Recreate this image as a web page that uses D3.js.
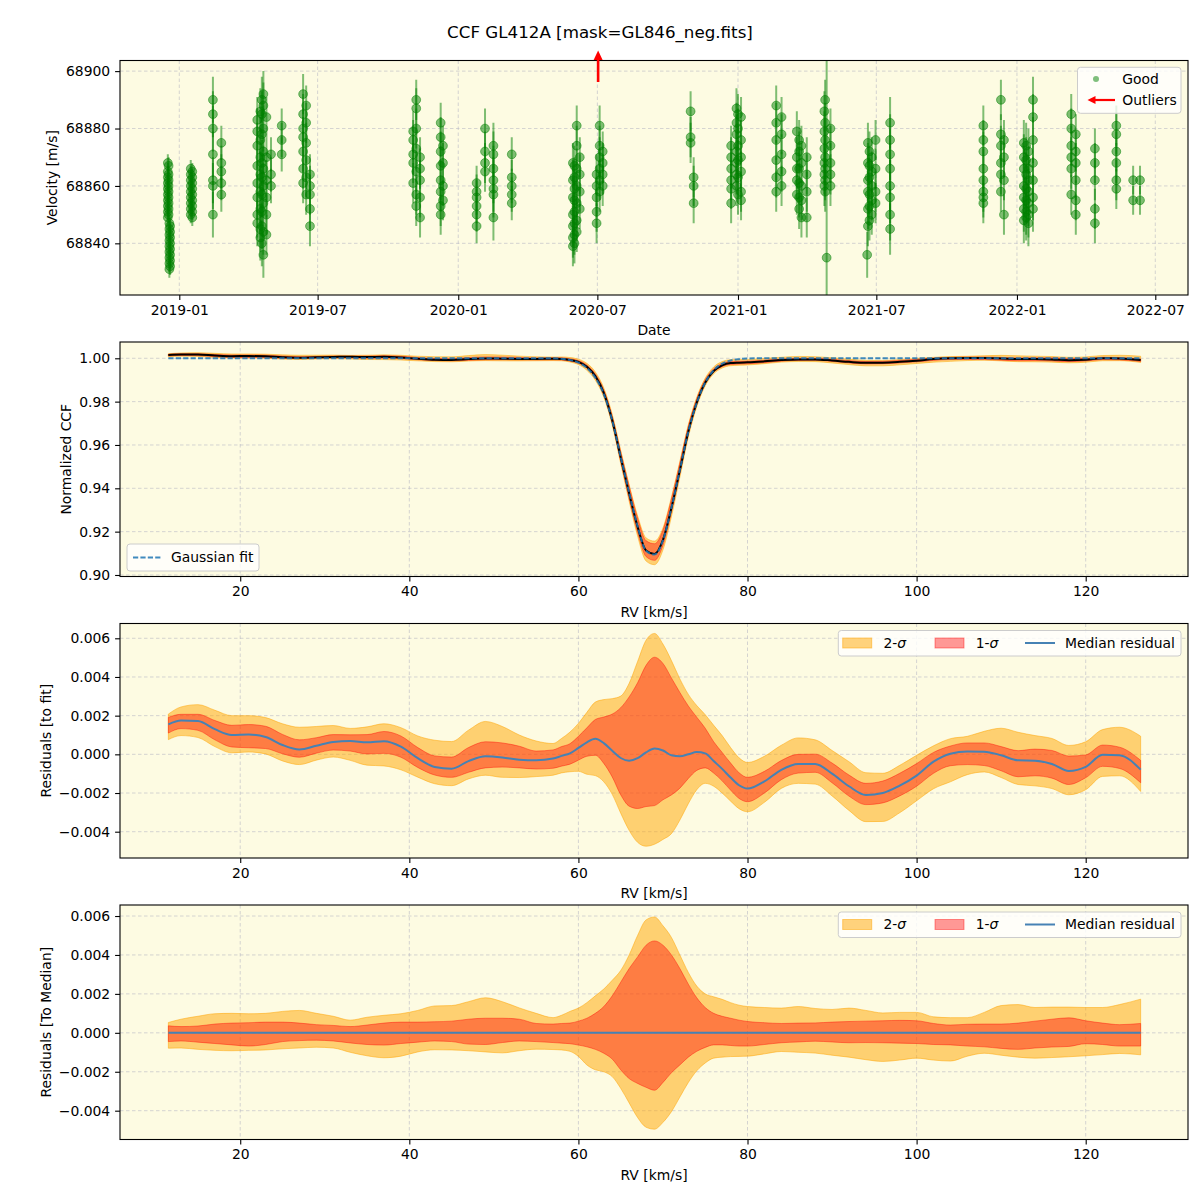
<!DOCTYPE html>
<html><head><meta charset="utf-8">
<script src="https://cdn.jsdelivr.net/npm/d3@7"></script>
<style>body{margin:0;background:#fff}svg{display:block;font-family:"DejaVu Sans",sans-serif}</style>
</head><body><svg id="c" width="1200" height="1200"></svg>
<script>
// ---------------- DATA ----------------
const titleText = "CCF GL412A [mask=GL846_neg.fits]";
// Panel 1: velocity time series (grouped by observing night)
const epochDates = ["2018-12-17","2018-12-18","2018-12-19","2018-12-20","2019-01-16","2019-01-18","2019-02-14","2019-02-25",
 "2019-04-13","2019-04-17","2019-04-21","2019-04-25","2019-05-01","2019-05-15","2019-06-12","2019-06-16","2019-06-21",
 "2019-11-03","2019-11-07","2019-11-12","2019-12-09","2019-12-12","2020-01-25","2020-02-05","2020-02-16","2020-03-11",
 "2020-05-30","2020-06-04","2020-06-08","2020-06-30","2020-07-04","2020-07-08","2020-10-31","2020-11-04",
 "2020-12-23","2020-12-30","2021-01-05","2021-02-20","2021-02-27","2021-03-19","2021-03-25","2021-04-01",
 "2021-04-25","2021-05-02","2021-04-27","2021-06-20","2021-06-25","2021-06-30","2021-06-19","2021-07-19",
 "2021-11-18","2021-12-11","2021-12-15","2022-01-10","2022-01-16","2022-01-22","2022-03-13","2022-03-19",
 "2022-04-13","2022-05-11","2022-06-02","2022-06-11",
 "2020-06-01","2021-01-01","2021-06-22","2022-01-13","2019-04-19","2021-03-22","2021-04-24"];
const epochVels = [
 [68868,68865,68863,68861,68859,68857,68855,68853,68851,68849],[68867,68864,68862,68860,68858,68856,68854,68852,68850],
 [68847,68845,68843,68841,68839,68837,68835,68833,68831],[68846,68844,68842,68840,68838,68836,68834,68832],
 [68866,68864,68862,68860,68858,68856,68854,68852,68850],[68865,68863,68861,68859,68857,68855,68853,68851,68849],
 [68890,68885,68880,68871,68862,68860,68850],[68875,68868,68865,68861,68857],
 [68883,68879,68874,68867,68861,68856,68850,68847],[68886,68876,68870,68864,68858,68852,68845,68842],[68892,68888,68880,68872,68866,68860,68854,68844,68836],
 [68884,68870,68862,68856,68850,68843],[68871,68864,68860],[68881,68876,68871],
 [68892,68885,68880,68877,68872,68866,68861],[68888,68882,68875,68869,68863,68857],[68864,68860,68857,68852,68846],
 [68879,68876,68871,68868,68861],[68890,68887,68880,68873,68865,68857,68853],[68870,68866,68862,68856,68849],
 [68882,68877,68872,68867,68862,68858,68853,68850],[68874,68868,68860,68855],[68861,68858,68856,68853,68850,68846],
 [68880,68872,68868,68865],[68874,68871,68866,68862,68859,68857,68849],[68871,68863,68860,68857,68854],
 [68868,68862,68856,68850,68846,68842,68839],[68881,68874,68866,68860,68854,68848,68844],[68870,68864,68858,68852],
 [68864,68860,68856,68851,68847],[68881,68874,68870,68866,68862,68858],[68872,68868,68864,68860],
 [68886,68877,68875],[68863,68860,68854],
 [68874,68870,68866,68862,68859,68854],[68887,68882,68878,68872,68868,68864,68860],[68884,68876,68870,68865,68858,68855],
 [68888,68882,68876,68869,68863,68858],[68884,68878,68871,68865,68860],
 [68879,68870,68866,68862,68857],[68874,68868,68860,68855,68849],[68870,68864,68858,68849],
 [68890,68882,68876,68870,68866,68862,68858],[68880,68874,68868,68864,68860],[68835],
 [68875,68868,68862,68858,68852,68846],[68870,68865,68860,68855,68850],[68876,68866,68858,68854],[68836],
 [68882,68876,68871,68866,68860,68856,68850,68845],
 [68881,68876,68872,68866,68862,68858,68856,68854],[68890,68878,68874,68868,68864,68858],[68876,68870,68862,68850],
 [68875,68870,68866,68860,68856,68852,68848],[68872,68866,68862,68858,68854,68850,68847],[68890,68884,68876,68868,68862,68856,68852],
 [68885,68880,68874,68870,68866,68857],[68878,68872,68868,68862,68855,68850],
 [68873,68868,68862,68852,68847],[68881,68878,68872,68868,68862,68859],[68862,68855],[68862,68855],
 [68867,68863,68859,68855,68851,68847,68843,68840],[68885,68880,68874,68869,68863,68857],[68872,68867,68863,68857,68853,68848],
 [68874,68869,68864,68859,68855,68851,68849],[68890,68885,68878,68868,68863,68857,68851,68846,68840],
 [68876,68872,68866,68861,68856,68852],[68886,68879,68873,68868,68864,68860]];
const epochErrs = [3,3,3,3,3,3,8,6, 8,8,8,7,6,6, 7,7,7, 7,7,7, 7,7,6,7,8,6, 7,7,7,7,7,7,7,7, 7,7,7,7,7,7,7,7, 7,7,70,7,7,7,8,9, 7,7,7,8,8,8,7,7, 7,7,5,5,
 7,7,7,8,8,7,7];
const outlierDates = ["2020-07-02"];
const dateLimits = ["2018-10-15T10:00:00Z","2022-08-12T19:00:00Z"];
const dateTicks = ["2019-01-01","2019-07-01","2020-01-01","2020-07-01","2021-01-01","2021-07-01","2022-01-01","2022-07-01"];
const velLimits = [68822, 68903.7];
const velTicks = [68840, 68860, 68880, 68900];

// Panels 2-4: RV grid, Gaussian fit, median residual and quantile offsets (x1e-3)
const rvGrid = [11.5,13,15,17,19,21,23,25,27,29,31,33,35,37,39,41,43,45,47,49,51,53,55,57,
 58,59,60,61,62,63,64,65,66,67,68,69,70,71,72,73,74,75,76,77,78,79,80,
 82,84,86,88,90,92,94,96,98,100,102,104,106,108,110,112,114,116,118,120,122,124,126.5];
const fitCCF = [1,1,1,1,1,1,1,1,1,1,1,1,1,1,1,1,1,1,1,1,1,1,1,1,
 0.9998,0.9992,0.998,0.9955,0.991,0.9835,0.9712,0.9545,0.938,0.9225,0.9112,0.9094,0.916,0.931,0.9485,0.9662,0.9795,0.9888,0.9945,0.9975,0.999,0.9996,0.9999,
 1,1,1,1,1,1,1,1,1,1,1,1,1,1,1,1,1,1,1,1,1,1,1];
const medResid = [1.55,1.75,1.72,1.3,1.0,1.02,0.9,0.48,0.25,0.44,0.64,0.69,0.62,0.68,0.4,-0.2,-0.65,-0.74,-0.35,-0.1,-0.16,-0.28,-0.31,-0.22,
 -0.08,0.05,0.33,0.62,0.8,0.58,0.18,-0.19,-0.33,-0.2,0.1,0.3,0.2,-0.05,-0.1,0.0,0.12,0.05,-0.35,-0.75,-1.2,-1.6,-1.77,
 -1.4,-0.8,-0.5,-0.5,-1.0,-1.65,-2.1,-2.0,-1.62,-1.1,-0.38,0.03,0.15,0.14,-0.05,-0.31,-0.33,-0.5,-0.86,-0.65,-0.02,-0.05,-0.79];
const hi2Off = [0.53,0.7,0.85,0.98,1.0,0.98,1.0,1.1,1.15,1.0,0.85,0.65,0.8,0.9,0.98,1.15,1.38,1.4,1.6,1.8,1.6,1.28,1.0,0.78,
 0.9,1.1,1.27,1.55,1.9,2.25,2.7,3.2,4.0,5.0,5.8,5.95,5.5,4.9,4.0,3.1,2.4,2.0,1.85,1.72,1.55,1.42,1.35,
 1.3,1.27,1.35,1.25,1.2,1.27,1.15,1.02,1.05,1.05,0.82,0.78,0.78,1.05,1.4,1.45,1.3,1.32,1.32,1.3,1.3,1.45,1.73];
const hi1Off = [0.36,0.32,0.35,0.45,0.5,0.52,0.55,0.55,0.5,0.42,0.38,0.32,0.4,0.5,0.55,0.55,0.57,0.6,0.7,0.75,0.75,0.7,0.48,0.45,
 0.48,0.5,0.6,0.75,1.0,1.35,1.9,2.6,3.3,3.9,4.5,4.72,4.5,4.0,3.3,2.5,1.8,1.3,1.0,0.85,0.75,0.65,0.58,
 0.52,0.48,0.5,0.51,0.55,0.58,0.6,0.62,0.64,0.62,0.48,0.4,0.44,0.45,0.45,0.5,0.6,0.7,0.77,0.62,0.5,0.42,0.48];
const lo1Off = [-0.45,-0.42,-0.48,-0.55,-0.62,-0.68,-0.6,-0.45,-0.4,-0.38,-0.42,-0.52,-0.6,-0.63,-0.55,-0.48,-0.42,-0.45,-0.58,-0.6,-0.5,-0.42,-0.45,-0.5,
 -0.53,-0.56,-0.63,-0.72,-0.85,-1.05,-1.35,-1.9,-2.35,-2.6,-2.8,-2.95,-2.55,-2.05,-1.65,-1.25,-0.95,-0.75,-0.62,-0.62,-0.65,-0.68,-0.68,
 -0.6,-0.51,-0.47,-0.43,-0.47,-0.51,-0.5,-0.51,-0.53,-0.55,-0.6,-0.62,-0.68,-0.72,-0.8,-0.85,-0.78,-0.73,-0.7,-0.56,-0.6,-0.68,-0.68];
const lo2Off = [-0.79,-0.78,-0.85,-0.9,-0.92,-0.9,-0.88,-0.82,-0.78,-0.74,-0.78,-1.0,-1.18,-1.28,-1.2,-0.98,-0.87,-0.88,-0.92,-0.98,-1.03,-0.92,-0.84,-0.86,
 -0.88,-0.95,-1.21,-1.65,-1.9,-2.0,-2.25,-2.85,-3.6,-4.35,-4.85,-4.95,-4.6,-4.05,-3.3,-2.55,-1.95,-1.55,-1.3,-1.25,-1.22,-1.21,-1.2,
 -1.08,-0.96,-1.0,-1.04,-1.15,-1.25,-1.38,-1.47,-1.4,-1.3,-1.4,-1.45,-1.2,-1.05,-1.15,-1.25,-1.3,-1.27,-1.23,-1.18,-1.12,-1.06,-1.13];
const rvLimits = [5.78, 132.1];
const rvTicks = [20,40,60,80,100,120];
const ccfLimits = [0.8993, 1.00752];
const ccfTicks = [0.90,0.92,0.94,0.96,0.98,1.00];
const resLimits = [-0.00536, 0.006765];
const medLimits = [-0.00548, 0.006566];
const resTicks = [-0.004,-0.002,0,0.002,0.004,0.006];

// ---------------- LAYOUT / STYLE ----------------
const L = 120, R = 1188, H = 234.5;
const tops = [60.5, 342, 623.5, 905];
const BG = "#fdfbe2", FS = 13.9, TICK = 4.9, E3 = 1e-3;
const GREEN = "#008000", FITC = "#1f77b4", MEDC = "#4682b4";
const svg = d3.select("#c");
svg.append("rect").attr("width",1200).attr("height",1200).attr("fill","#fff");

svg.append("text").attr("x",600).attr("y",38).attr("text-anchor","middle")
  .attr("font-size",16.7).attr("fill","#000").text(titleText);

function makePanel(idx, x, y, xTicks, xFmt, yTicks, yFmt, xLabel, yLabel, yLabelX){
  const top = tops[idx], bottom = top + H;
  const g = svg.append("g");
  g.append("rect").attr("x",L).attr("y",top).attr("width",R-L).attr("height",H).attr("fill",BG);
  const grid = g.append("g").attr("stroke","#b8b8c4").attr("stroke-width",0.8)
    .attr("stroke-dasharray","3.5,2.5").attr("stroke-opacity",0.75);
  grid.selectAll(null).data(xTicks).join("line")
    .attr("x1",d=>x(d)).attr("x2",d=>x(d)).attr("y1",top).attr("y2",bottom);
  grid.selectAll(null).data(yTicks).join("line")
    .attr("x1",L).attr("x2",R).attr("y1",d=>y(d)).attr("y2",d=>y(d));
  const cid = "clip"+idx;
  svg.append("clipPath").attr("id",cid).append("rect")
    .attr("x",L).attr("y",top).attr("width",R-L).attr("height",H);
  const content = svg.append("g").attr("clip-path",`url(#${cid})`);
  const finish = () => {
    const ax = svg.append("g");
    ax.append("g").attr("transform",`translate(0,${bottom})`)
      .call(d3.axisBottom(x).tickValues(xTicks).tickFormat(xFmt).tickSize(TICK).tickPadding(4.9))
      .call(a=>{a.select(".domain").remove();
        a.attr("font-size",FS).attr("font-family","DejaVu Sans");
        a.selectAll("line").attr("stroke","#000").attr("stroke-width",1.1);
        a.selectAll("text").attr("fill","#000");});
    ax.append("g").attr("transform",`translate(${L},0)`)
      .call(d3.axisLeft(y).tickValues(yTicks).tickFormat(yFmt).tickSize(TICK).tickPadding(4.9))
      .call(a=>{a.select(".domain").remove();
        a.attr("font-size",FS).attr("font-family","DejaVu Sans");
        a.selectAll("line").attr("stroke","#000").attr("stroke-width",1.1);
        a.selectAll("text").attr("fill","#000");});
    ax.append("rect").attr("x",L).attr("y",top).attr("width",R-L).attr("height",H)
      .attr("fill","none").attr("stroke","#000").attr("stroke-width",1.1);
    ax.append("text").attr("x",(L+R)/2).attr("y",bottom+35.5).attr("dy","0.35em")
      .attr("text-anchor","middle").attr("font-size",FS).text(xLabel);
    ax.append("text").attr("transform",`translate(${yLabelX},${top+H/2}) rotate(-90)`)
      .attr("dy","0.35em").attr("text-anchor","middle").attr("font-size",FS).text(yLabel);
  };
  return {content, finish, top, bottom};
}

// ---------------- PANEL 1 ----------------
const parseISO = d3.isoParse, parseD = d3.utcParse("%Y-%m-%d");
const x1 = d3.scaleUtc().domain(dateLimits.map(parseISO)).range([L,R]);
const y1 = d3.scaleLinear().domain(velLimits).range([tops[0]+H, tops[0]]);
const p1 = makePanel(0, x1, y1, dateTicks.map(parseD), d3.utcFormat("%Y-%m"), velTicks, d3.format("d"),
  "Date", "Velocity [m/s]", 52);
const pts = [];
epochDates.forEach((d,i)=>epochVels[i].forEach(v=>pts.push({t:parseD(d), v, e:epochErrs[i]})));
p1.content.append("g").attr("stroke",GREEN).attr("stroke-opacity",0.5).attr("stroke-width",2)
  .selectAll("line").data(pts).join("line")
  .attr("x1",d=>x1(d.t)).attr("x2",d=>x1(d.t)).attr("y1",d=>y1(d.v-d.e)).attr("y2",d=>y1(d.v+d.e));
p1.content.append("g").attr("fill",GREEN).attr("fill-opacity",0.5)
  .attr("stroke",GREEN).attr("stroke-opacity",0.5).attr("stroke-width",1)
  .selectAll("circle").data(pts).join("circle")
  .attr("cx",d=>x1(d.t)).attr("cy",d=>y1(d.v)).attr("r",4.4);
p1.finish();
// outlier arrows (pointing up, above the axes)
outlierDates.forEach(d=>{
  const xx = x1(parseD(d)), t = tops[0];
  svg.append("line").attr("x1",xx).attr("x2",xx).attr("y1",t+21.5).attr("y2",t-2)
    .attr("stroke","red").attr("stroke-width",2.6);
  svg.append("path").attr("d",`M${xx},${t-10}L${xx-4.5},${t-0.5}L${xx+4.5},${t-0.5}Z`).attr("fill","red");
});
// legend panel 1
{
  const lg = svg.append("g");
  lg.append("rect").attr("x",1077.5).attr("y",67.3).attr("width",103.5).attr("height",46).attr("rx",3)
    .attr("fill","#fff").attr("fill-opacity",0.8).attr("stroke","#cccccc").attr("stroke-width",1);
  lg.append("circle").attr("cx",1096).attr("cy",79).attr("r",3).attr("fill",GREEN).attr("fill-opacity",0.5);
  lg.append("text").attr("x",1122.3).attr("y",79).attr("dy","0.35em").attr("font-size",FS).text("Good");
  lg.append("line").attr("x1",1115).attr("x2",1093).attr("y1",100).attr("y2",100).attr("stroke","red").attr("stroke-width",2.2);
  lg.append("path").attr("d","M1087.5,100L1095.5,96L1095.5,104Z").attr("fill","red");
  lg.append("text").attr("x",1122.3).attr("y",100).attr("dy","0.35em").attr("font-size",FS).text("Outliers");
}

// ---------------- shared band drawing ----------------
const xr = d3.scaleLinear().domain(rvLimits).range([L,R]);
function drawBands(g, y, rows){
  const area = (lo,hi)=>d3.area().x(d=>xr(d.rv)).y0(d=>y(d[lo])).y1(d=>y(d[hi])).curve(d3.curveMonotoneX);
  g.append("path").datum(rows).attr("d",area("lo2","hi2"))
    .attr("fill","#FFA500").attr("fill-opacity",0.5).attr("stroke","#FFA500").attr("stroke-opacity",0.5).attr("stroke-width",1);
  g.append("path").datum(rows).attr("d",area("lo1","hi1"))
    .attr("fill","#FF0000").attr("fill-opacity",0.4).attr("stroke","#FF0000").attr("stroke-opacity",0.4).attr("stroke-width",1);
}
const lineGen = (y,key)=>d3.line().x(d=>xr(d.rv)).y(d=>y(d[key])).curve(d3.curveMonotoneX);

// ---------------- PANEL 2 ----------------
const y2 = d3.scaleLinear().domain(ccfLimits).range([tops[1]+H, tops[1]]);
const p2 = makePanel(1, xr, y2, rvTicks, d3.format("d"), ccfTicks, d3.format(".2f"), "RV [km/s]", "Normalized CCF", 66);
const rows2 = rvGrid.map((rv,i)=>{const b = fitCCF[i] + medResid[i]*E3;
  return {rv, fit:fitCCF[i], med:b, lo2:b+lo2Off[i]*E3, hi2:b+hi2Off[i]*E3, lo1:b+lo1Off[i]*E3, hi1:b+hi1Off[i]*E3};});
drawBands(p2.content, y2, rows2);
p2.content.append("path").datum(rows2).attr("d",lineGen(y2,"med")).attr("fill","none").attr("stroke","#000").attr("stroke-width",2);
p2.content.append("path").datum(rows2).attr("d",lineGen(y2,"fit")).attr("fill","none").attr("stroke",FITC)
  .attr("stroke-opacity",0.85).attr("stroke-width",2).attr("stroke-dasharray","5.2,2.2");
p2.finish();
{
  const lg = svg.append("g");
  lg.append("rect").attr("x",127).attr("y",544).attr("width",132).attr("height",27).attr("rx",3)
    .attr("fill","#fff").attr("fill-opacity",0.8).attr("stroke","#cccccc").attr("stroke-width",1);
  lg.append("line").attr("x1",133).attr("x2",161).attr("y1",557.5).attr("y2",557.5).attr("stroke",FITC)
    .attr("stroke-opacity",0.85).attr("stroke-width",2).attr("stroke-dasharray","5.2,2.2");
  lg.append("text").attr("x",171).attr("y",557.5).attr("dy","0.35em").attr("font-size",FS).text("Gaussian fit");
}

// ---------------- PANELS 3 & 4 ----------------
function residLegend(top){
  const lg = svg.append("g");
  lg.append("rect").attr("x",838.3).attr("y",top+7).attr("width",342.7).attr("height",25.5).attr("rx",3)
    .attr("fill","#fff").attr("fill-opacity",0.8).attr("stroke","#cccccc").attr("stroke-width",1);
  const cy = top+19.5;
  lg.append("rect").attr("x",842.7).attr("y",cy-5).attr("width",29).attr("height",10)
    .attr("fill","#FFA500").attr("fill-opacity",0.5).attr("stroke","#FFA500").attr("stroke-opacity",0.5);
  const t1 = lg.append("text").attr("x",883.5).attr("y",cy).attr("dy","0.35em").attr("font-size",FS);
  t1.append("tspan").text("2-"); t1.append("tspan").attr("font-style","italic").text("σ");
  lg.append("rect").attr("x",935).attr("y",cy-5).attr("width",29).attr("height",10)
    .attr("fill","#FF0000").attr("fill-opacity",0.4).attr("stroke","#FF0000").attr("stroke-opacity",0.4);
  const t2 = lg.append("text").attr("x",975.7).attr("y",cy).attr("dy","0.35em").attr("font-size",FS);
  t2.append("tspan").text("1-"); t2.append("tspan").attr("font-style","italic").text("σ");
  lg.append("line").attr("x1",1025).attr("x2",1055).attr("y1",cy).attr("y2",cy).attr("stroke",MEDC).attr("stroke-width",2);
  lg.append("text").attr("x",1065).attr("y",cy).attr("dy","0.35em").attr("font-size",FS).text("Median residual");
}

const y3 = d3.scaleLinear().domain(resLimits).range([tops[2]+H, tops[2]]);
const p3 = makePanel(2, xr, y3, rvTicks, d3.format("d"), resTicks, d3.format(".3f"), "RV [km/s]", "Residuals [to fit]", 46);
const rows3 = rvGrid.map((rv,i)=>{const m = medResid[i];
  return {rv, med:m*E3, lo2:(m+lo2Off[i])*E3, hi2:(m+hi2Off[i])*E3, lo1:(m+lo1Off[i])*E3, hi1:(m+hi1Off[i])*E3};});
drawBands(p3.content, y3, rows3);
p3.content.append("path").datum(rows3).attr("d",lineGen(y3,"med")).attr("fill","none").attr("stroke",MEDC).attr("stroke-width",2);
p3.finish();
residLegend(tops[2]);

const y4 = d3.scaleLinear().domain(medLimits).range([tops[3]+H, tops[3]]);
const p4 = makePanel(3, xr, y4, rvTicks, d3.format("d"), resTicks, d3.format(".3f"), "RV [km/s]", "Residuals [To Median]", 46);
const rows4 = rvGrid.map((rv,i)=>({rv, med:(medResid[i]-medResid[i])*E3, lo2:lo2Off[i]*E3, hi2:hi2Off[i]*E3, lo1:lo1Off[i]*E3, hi1:hi1Off[i]*E3}));
drawBands(p4.content, y4, rows4);
p4.content.append("path").datum(rows4).attr("d",lineGen(y4,"med")).attr("fill","none").attr("stroke",MEDC).attr("stroke-width",2);
p4.finish();
residLegend(tops[3]);
</script></body></html>
